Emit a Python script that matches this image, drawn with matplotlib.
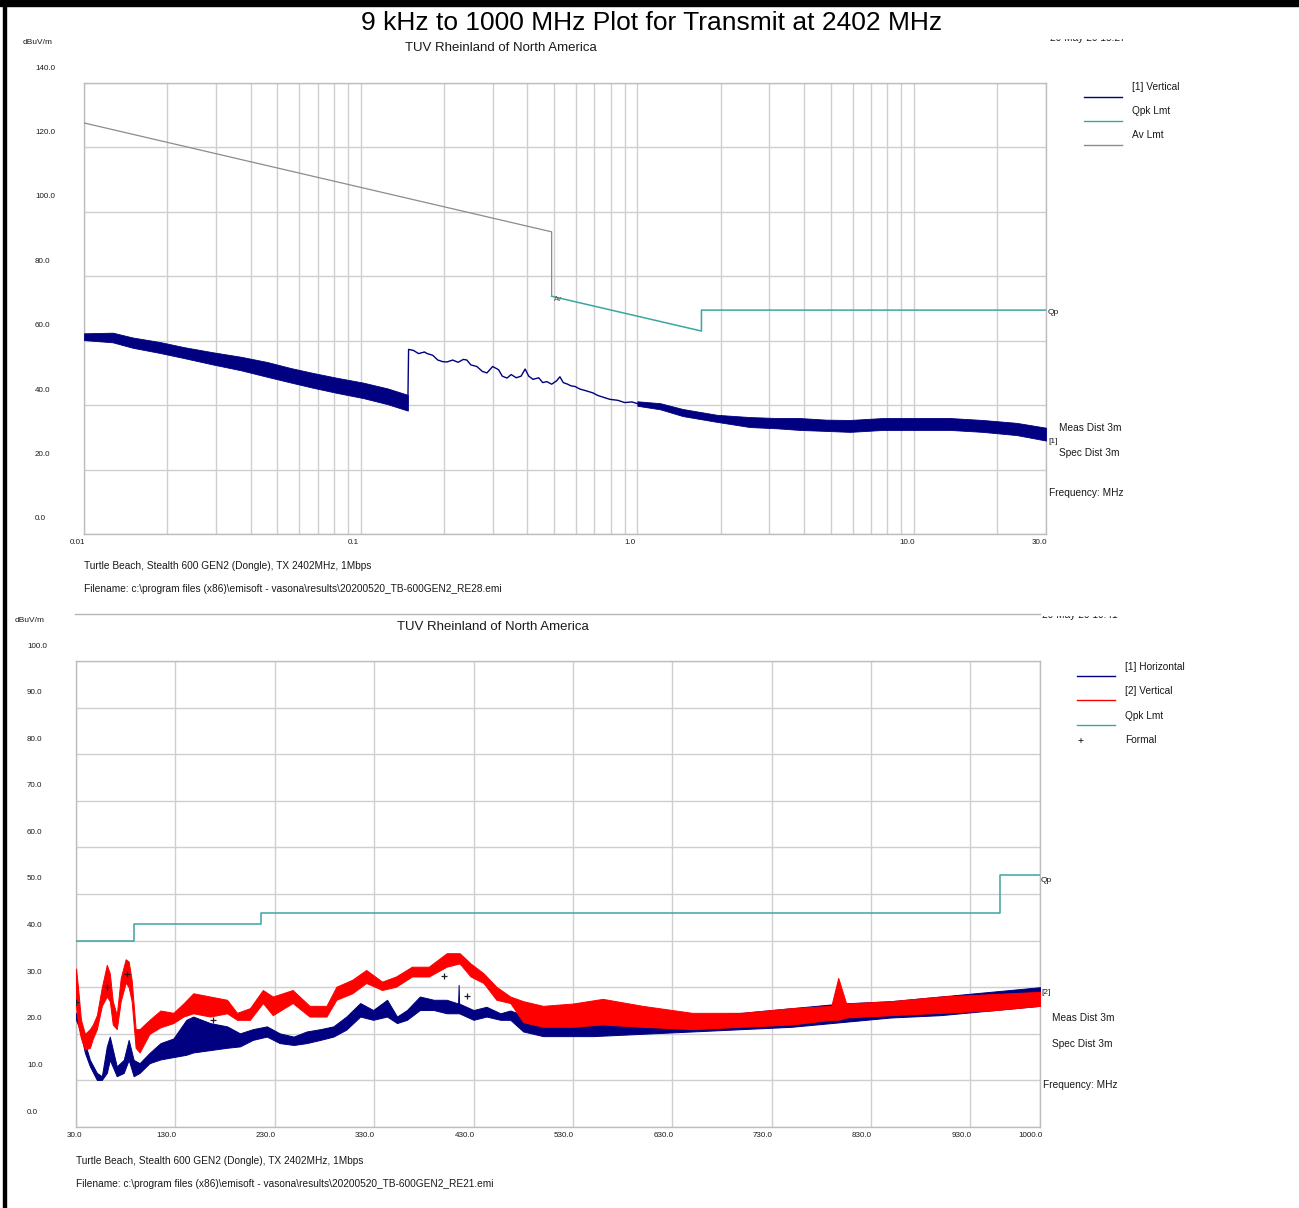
import matplotlib
matplotlib.use('Agg')
import matplotlib.pyplot as plt
from matplotlib.patches import Rectangle
from matplotlib.lines import Line2D

plt.rcParams['font.family'] = ['Liberation Sans', 'DejaVu Sans']

# ---------------- data: upper plot (9 kHz - 30 MHz, log axis) ----------------
top_y_ticks = [0, 20, 40, 60, 80, 100, 120, 140]
top_x_ticks = [0.01, 0.1, 1.0, 10.0, 30.0]
top_x_labels = ['0.01', '0.1', '1.0', '10.0', '30.0']

av_lmt_freq = [0.01, 0.49, 0.49]
av_lmt_level = [127.6, 93.8, 73.8]
top_qpk_freq = [0.49, 1.705, 1.705, 30.0]
top_qpk_level = [73.8, 63.0, 69.5, 69.5]

# dense noisy part below 150 kHz (band envelope)
top_n1_freq = [0.0100, 0.0127, 0.0150, 0.0188, 0.0230, 0.0293, 0.0370, 0.0459,
               0.0560, 0.0672, 0.0820, 0.1020, 0.1250, 0.1480]
top_n1_lo = [60.2, 59.5, 57.8, 56.2, 54.6, 52.6, 50.8, 48.8, 47.0, 45.4, 43.8, 42.2, 40.3, 38.3]
top_n1_hi = [62.3, 62.5, 61.0, 59.6, 58.0, 56.4, 55.0, 53.4, 51.5, 50.0, 48.5, 47.0, 45.2, 43.2]

# single trace 150 kHz - 1 MHz
top_line_freq = [0.148, 0.149, 0.155, 0.162, 0.170, 0.174, 0.182, 0.190, 0.198, 0.205,
                 0.215, 0.225, 0.235, 0.242, 0.250, 0.263, 0.275, 0.286, 0.300, 0.315,
                 0.325, 0.338, 0.350, 0.365, 0.380, 0.393, 0.405, 0.420, 0.440, 0.455,
                 0.471, 0.490, 0.510, 0.525, 0.540, 0.560, 0.575, 0.595, 0.620, 0.650,
                 0.691, 0.720, 0.750, 0.796, 0.850, 0.900, 0.956, 1.000]
top_line_level = [38.5, 57.3, 57.0, 56.0, 56.5, 56.0, 55.5, 54.0, 53.5, 53.4,
                  54.0, 53.3, 54.2, 54.0, 52.5, 52.0, 50.5, 50.0, 52.0, 51.0,
                  49.0, 48.4, 49.5, 48.5, 49.0, 51.2, 49.0, 48.0, 48.5, 47.0,
                  47.3, 46.5, 47.5, 48.8, 47.0, 46.5, 46.0, 45.8, 45.0, 44.5,
                  43.8, 43.0, 42.5, 41.8, 41.5, 40.8, 41.0, 40.5]

# dense noisy part 1 - 30 MHz
top_n2_freq = [1.0, 1.21, 1.46, 1.94, 2.55, 3.2, 3.87, 4.8, 5.87, 7.72, 10.2, 13.5, 17.7, 23.5, 30.0]
top_n2_lo = [39.8, 38.7, 36.6, 34.8, 33.2, 32.8, 32.3, 32.0, 31.7, 32.3, 32.3, 32.3, 31.7, 30.7, 29.0]
top_n2_hi = [41.2, 40.6, 38.8, 37.0, 36.3, 36.0, 36.0, 35.5, 35.4, 36.0, 36.0, 36.0, 35.4, 34.5, 33.0]

# ---------------- data: lower plot (30 - 1000 MHz, linear axis) ----------------
bot_y_ticks = [0, 10, 20, 30, 40, 50, 60, 70, 80, 90, 100]
bot_x_ticks = [30, 130, 230, 330, 430, 530, 630, 730, 830, 930, 1000]
bot_x_labels = ['30.0', '130.0', '230.0', '330.0', '430.0', '530.0', '630.0',
                '730.0', '830.0', '930.0', '1000.0']

bot_qpk_freq = [30, 88, 88, 216, 216, 960, 960, 1000]
bot_qpk_level = [40.0, 40.0, 43.5, 43.5, 46.0, 46.0, 54.0, 54.0]

vert_freq = [30, 32, 35, 39, 44, 47, 51, 56, 61, 64, 67, 71, 75, 80, 83, 86, 90, 94,
             104, 115, 128, 138, 148, 165, 182, 192, 205, 218, 228, 248, 265, 282,
             292, 308, 322, 338, 352, 368, 385, 403, 416, 427, 440, 453, 467,
             480, 500, 530, 560, 600, 650, 700, 750, 790, 797, 805, 850, 900, 950, 1000]
vert_lo = [26, 22, 19, 16.6, 17, 19, 21, 26, 28, 27, 22, 21, 27, 31, 30, 27, 17, 16,
           20, 21.4, 22.3, 23.7, 24.4, 23.7, 24.4, 23, 23, 26.6, 24, 26.6, 23.7, 23.7,
           27.3, 28.7, 30.9, 29.4, 30.1, 32.3, 32.3, 34.4, 35.1, 32.3, 30.9, 27.3, 26.6,
           22.5, 21.5, 21.5, 22, 21.5, 21, 21.5, 22, 23, 23, 23.5, 24, 24.5, 25, 26]
vert_hi = [34, 30, 23, 20, 21, 22, 24, 30, 34.8, 33, 27, 24, 32, 36, 35.5, 31.6, 21, 21,
           23, 25, 24.5, 26.5, 28.7, 28, 27.3, 24.5, 25.5, 29.4, 28, 29.4, 26, 26,
           30.1, 31.6, 33.7, 31.2, 32.3, 34.4, 34.4, 37.3, 37.3, 35.1, 33, 30.1, 28,
           27, 26, 26.5, 27.5, 26, 24.5, 24.5, 25.5, 26, 32, 26.5, 27, 28, 28.5, 29]

horz_freq = [30, 34, 39, 44, 51, 56, 61, 64, 71, 78, 83, 88, 94, 104, 115, 128, 141,
             148, 165, 182, 195, 208, 222, 235, 249, 262, 276, 289, 302, 316, 329,
             343, 353, 363, 376, 390, 403, 414.5, 415, 415.5, 430, 443, 457, 467,
             480, 500, 550, 600, 650, 700, 750, 800, 850, 900, 950, 1000]
horz_lo = [23, 20.9, 15.9, 13, 10.1, 10.1, 11.6, 14.4, 10.9, 11.6, 14.4, 10.9, 11.6,
           13.7, 14.5, 15.0, 15.5, 16.0, 16.5, 17, 17.3, 18.7, 19.4, 18, 17.6, 18,
           18.7, 19.4, 20.9, 23.7, 23, 23.7, 22.3, 23, 25.1, 25.1, 24.4, 24.4, 24.4,
           24.4, 23, 23.7, 23, 23,
           20.5, 19.5, 19.5, 20, 20.5, 21, 21.5, 22.5, 23.5, 24, 25, 26]
horz_hi = [24.5, 22.3, 18, 14.4, 11.6, 10.9, 17.3, 19.4, 13, 14.4, 18.7, 14.4, 13.7,
           15.9, 18, 19.0, 23, 23.7, 22.3, 21.6, 20.1, 21, 21.6, 20.1, 19.4, 20.5,
           21, 21.6, 23.7, 26.6, 25.1, 27.3, 23.7, 25.1, 28, 27.3, 27.3, 26.5, 30.5,
           26.5, 25.1, 25.8, 24.4, 25,
           24, 23, 23, 23.5, 24, 24.5, 25.5, 26.5, 27, 28, 29, 30]

formal_freq = [30, 61, 81, 168, 400, 423]
formal_level = [26.9, 30.1, 32.8, 23.0, 32.3, 28.1]

# ---------------- styling ----------------
W, H = 1299, 1208
NAVY = '#000080'
RED = '#ff0000'
TEAL = '#3aa6a0'
LGRAY = '#8c8c8c'
GRID = '#cfcfcf'
TXT = '#1a1a1a'

fig = plt.figure(figsize=(W / 100, H / 100), dpi=100)


def fx(x):
    return x / W


def fy(y):
    return 1 - y / H


def ftext(x, y, s, size=7.3, ha='left', va='center', color=TXT, **kw):
    return fig.text(fx(x), fy(y), s, fontsize=size, ha=ha, va=va, color=color, **kw)


def axes_px(x0, y0, x1, y1):
    return fig.add_axes([fx(x0), fy(y1), (x1 - x0) / W, (y1 - y0) / H])


def fline(x0, y0, x1, y1, color, lw=1.0):
    fig.add_artist(Line2D([fx(x0), fx(x1)], [fy(y0), fy(y1)], color=color, lw=lw))


def style_axes(ax):
    for sp in ax.spines.values():
        sp.set_color('#bdbdbd')
        sp.set_linewidth(1.0)
    ax.tick_params(which='both', length=0, labelbottom=False, labelleft=False)
    ax.grid(True, which='both', color=GRID, lw=1.0)
    ax.set_axisbelow(True)


# ---------------- frame / title ----------------
fig.add_artist(Rectangle((0, fy(6)), 1, 6 / H, transform=fig.transFigure,
                         color='black', zorder=10))
fig.add_artist(Rectangle((fx(3), 0), 2.5 / W, 1, transform=fig.transFigure,
                         color='black', zorder=10))
ftext(652, 23, '9 kHz to 1000 MHz Plot for Transmit at 2402 MHz', size=19,
      ha='center', color='black', zorder=12)

# ---------------- upper chart ----------------
ax1 = axes_px(84, 83, 1046, 534)
ax1.set_xscale('log')
ax1.set_xlim(0.01, 30)
ax1.set_ylim(0, 140)
ax1.set_yticks(top_y_ticks)
ax1.set_xticks(top_x_ticks)
ax1.set_xticks([m * d for d in (0.01, 0.1, 1.0) for m in range(2, 10)] + [20.0], minor=True)
style_axes(ax1)

ax1.plot(av_lmt_freq, av_lmt_level, color=LGRAY, lw=0.9, zorder=3)
ax1.plot(top_qpk_freq, top_qpk_level, color=TEAL, lw=1.1, zorder=3)
ax1.fill_between(top_n1_freq, top_n1_lo, top_n1_hi, color=NAVY, lw=0.6, zorder=4)
ax1.plot(top_line_freq, top_line_level, color=NAVY, lw=1.0, zorder=4)
ax1.fill_between(top_n2_freq, top_n2_lo, top_n2_hi, color=NAVY, lw=0.6, zorder=4)
ax1.annotate('Av', xy=(0.49, 73.8), xytext=(2, -3), textcoords='offset pixels',
             fontsize=5, color='#505050', ha='left', va='center')

for v in top_y_ticks:
    ax1.annotate(f'{v:.1f}', xy=(0, v), xycoords=('axes fraction', 'data'),
                 xytext=(-49, 15), textcoords='offset pixels', fontsize=5.8,
                 ha='left', va='center', color=TXT)
for v, s in zip(top_x_ticks, top_x_labels):
    ax1.annotate(s, xy=(v, 0), xycoords=('data', 'axes fraction'),
                 xytext=(-7, -5), textcoords='offset pixels', fontsize=5.8,
                 ha='center', va='top', color=TXT)

ftext(23, 43, 'dBuV/m', size=6)
ftext(501, 48, 'TUV Rheinland of North America', size=9.5, ha='center')
ftext(1093, 38, '20 May 20 15:27 --', size=7.3, ha='center')
fig.add_artist(Rectangle((fx(1050), fy(38)), 90 / W, 10 / H, transform=fig.transFigure,
                         color='white', zorder=8))

# legend
for yl, yt, col, lab in [(97, 87, NAVY, '[1] Vertical'), (121, 111, TEAL, 'Qpk Lmt'),
                         (145, 135, LGRAY, 'Av Lmt')]:
    fline(1084, yl, 1122, yl, col, 1.0)
    ftext(1132, yt, lab)

ftext(1048, 313, 'Qp', size=6)
ftext(1048, 441, '[1]', size=6)
ftext(1059, 428, 'Meas Dist 3m')
ftext(1059, 453, 'Spec Dist 3m')
ftext(1049, 493, 'Frequency: MHz')
ftext(84, 566, 'Turtle Beach, Stealth 600 GEN2 (Dongle), TX 2402MHz, 1Mbps')
ftext(84, 589, 'Filename: c:\\program files (x86)\\emisoft - vasona\\results\\20200520_TB-600GEN2_RE28.emi')

# ---------------- lower chart ----------------
fline(75, 614, 1040, 614, '#b5b5b5', 1.0)
ftext(1085, 615, '20 May 20 10:41 --', size=7.3, ha='center')
fig.add_artist(Rectangle((fx(1042), fy(615)), 90 / W, 10 / H, transform=fig.transFigure,
                         color='white', zorder=8))
ftext(15, 621, 'dBuV/m', size=6)
ftext(493, 627, 'TUV Rheinland of North America', size=9.5, ha='center')

ax2 = axes_px(76, 661, 1040, 1127)
ax2.set_xlim(30, 1000)
ax2.set_ylim(0, 100)
ax2.set_yticks(bot_y_ticks)
ax2.set_xticks(bot_x_ticks)
style_axes(ax2)

ax2.plot(bot_qpk_freq, bot_qpk_level, color=TEAL, lw=1.1, zorder=3)
ax2.fill_between(horz_freq, horz_lo, horz_hi, color=NAVY, lw=0.7, zorder=4)
ax2.fill_between(vert_freq, vert_lo, vert_hi, color=RED, lw=0.7, zorder=5)
ax2.plot(formal_freq, formal_level, '+', color='#202020', ms=5, mew=0.9, zorder=6)

for v in bot_y_ticks:
    ax2.annotate(f'{v:.1f}', xy=(0, v), xycoords=('axes fraction', 'data'),
                 xytext=(-49, 15), textcoords='offset pixels', fontsize=5.8,
                 ha='left', va='center', color=TXT)
for i, (v, s) in enumerate(zip(bot_x_ticks, bot_x_labels)):
    ax2.annotate(s, xy=(v, 0), xycoords=('data', 'axes fraction'),
                 xytext=(-2 if i == 0 else -9, -5), textcoords='offset pixels',
                 fontsize=5.8, ha='center', va='top', color=TXT)

for yl, yt, col, lab in [(676, 667, NAVY, '[1] Horizontal'), (700, 691, RED, '[2] Vertical'),
                         (725, 716, TEAL, 'Qpk Lmt')]:
    fline(1077, yl, 1115, yl, col, 1.0)
    ftext(1125, yt, lab)
ftext(1081, 741, '+', size=7.5, ha='center', color='black')
ftext(1125, 740, 'Formal')

ftext(1041, 880, 'Qp', size=6)
ftext(1041, 992, '[2]', size=6)
ftext(1052, 1018, 'Meas Dist 3m')
ftext(1052, 1044, 'Spec Dist 3m')
ftext(1043, 1085, 'Frequency: MHz')
ftext(76, 1161, 'Turtle Beach, Stealth 600 GEN2 (Dongle), TX 2402MHz, 1Mbps')
ftext(76, 1184, 'Filename: c:\\program files (x86)\\emisoft - vasona\\results\\20200520_TB-600GEN2_RE21.emi')

fig.savefig('out.png', dpi=100, facecolor='white')
